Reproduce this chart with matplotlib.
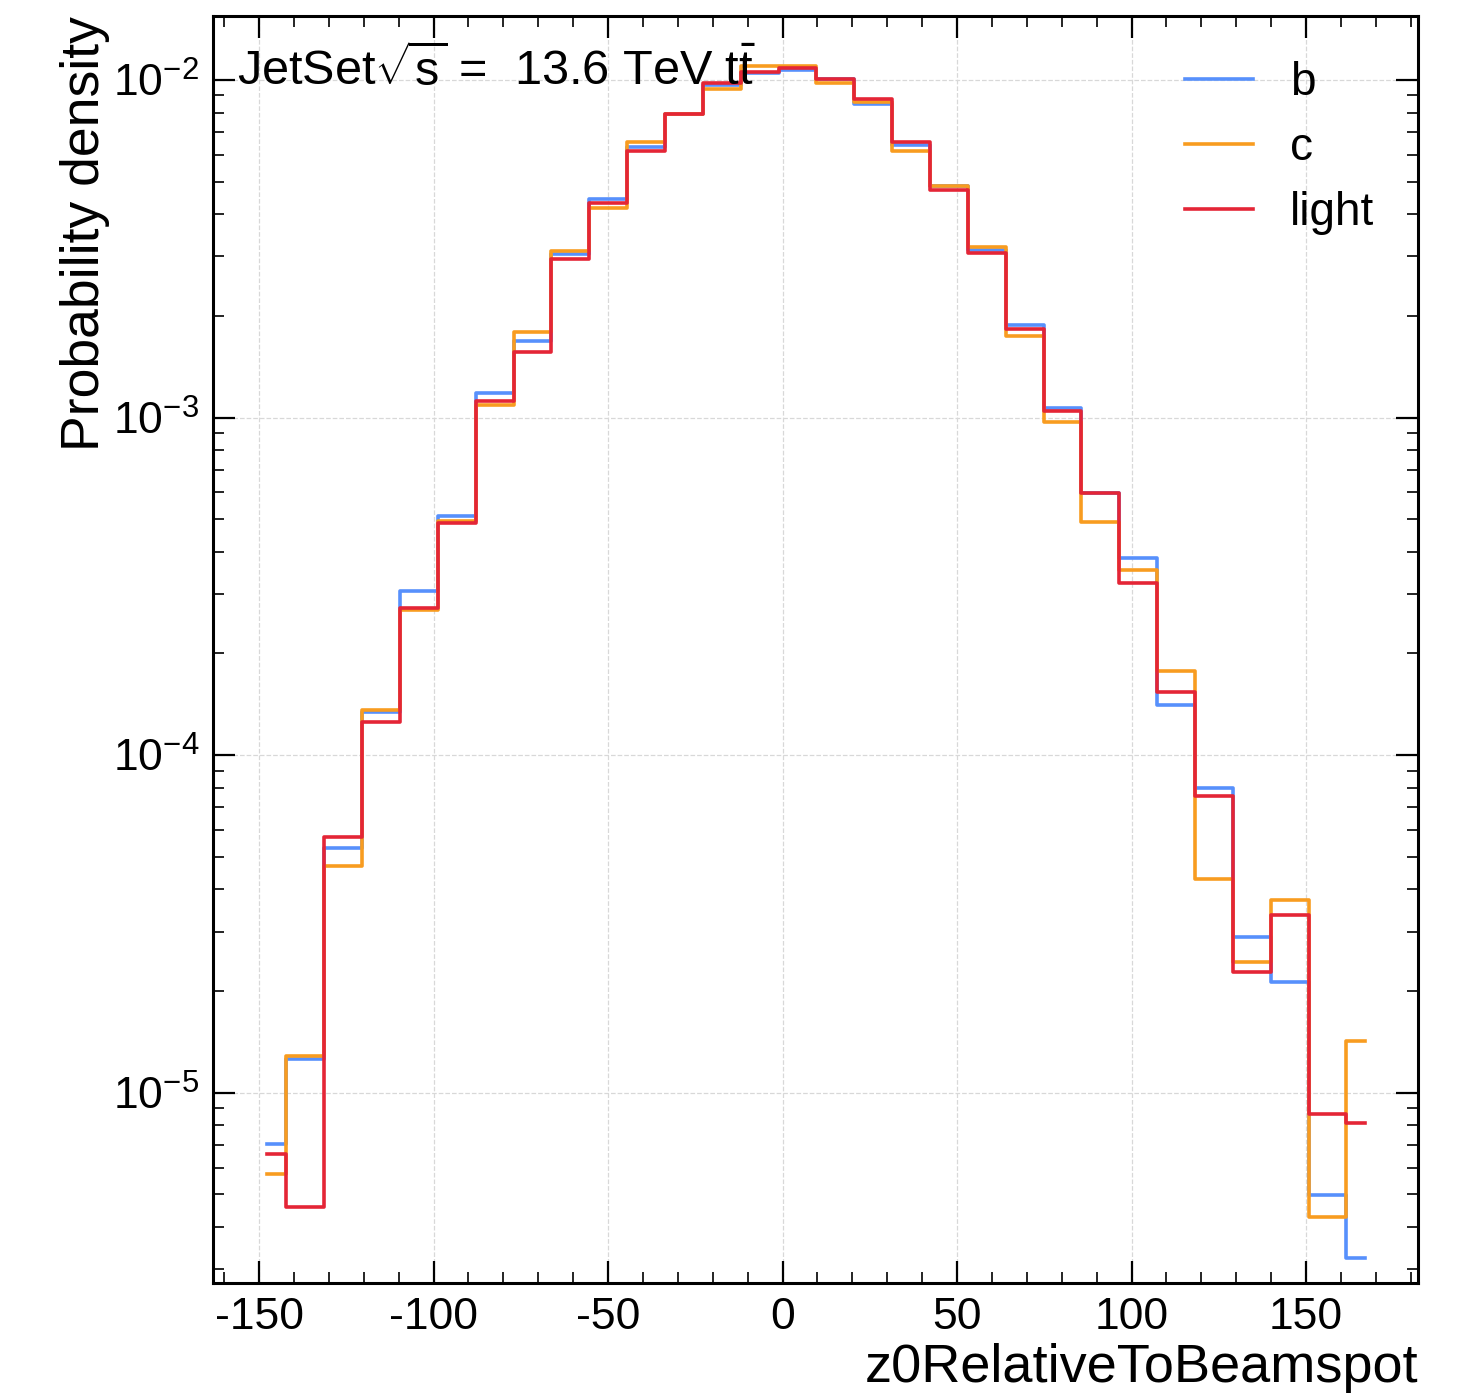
import matplotlib
matplotlib.use("Agg")
import matplotlib.pyplot as plt
from matplotlib.ticker import MultipleLocator, LogLocator, NullFormatter
import numpy as np

plt.rcParams['font.family'] = ['Liberation Sans', 'DejaVu Sans']
plt.rcParams['mathtext.fontset'] = 'custom'
plt.rcParams['mathtext.rm'] = 'Liberation Sans'
plt.rcParams['mathtext.it'] = 'Liberation Sans:italic'
plt.rcParams['mathtext.default'] = 'regular'
plt.rcParams['axes.unicode_minus'] = False

# bin centres of z0RelativeToBeamspot histogram (30 bins)
centers = np.linspace(-147.6, 167.0, 30)

b_vals = [7.05e-6, 1.26e-5, 5.31e-5, 1.34e-4, 3.07e-4, 5.11e-4, 1.18e-3, 1.68e-3,
          3.05e-3, 4.44e-3, 6.33e-3, 7.95e-3, 9.66e-3, 1.049e-2, 1.070e-2, 1.007e-2,
          8.49e-3, 6.42e-3, 4.85e-3, 3.14e-3, 1.88e-3, 1.068e-3, 5.98e-4, 3.84e-4,
          1.41e-4, 7.99e-5, 2.89e-5, 2.13e-5, 4.98e-6, 3.24e-6]
c_vals = [5.75e-6, 1.285e-5, 4.69e-5, 1.36e-4, 2.69e-4, 4.94e-4, 1.09e-3, 1.79e-3,
          3.11e-3, 4.18e-3, 6.55e-3, 7.95e-3, 9.40e-3, 1.100e-2, 1.100e-2, 9.80e-3,
          8.61e-3, 6.16e-3, 4.85e-3, 3.20e-3, 1.745e-3, 9.70e-4, 4.91e-4, 3.54e-4,
          1.78e-4, 4.30e-5, 2.44e-5, 3.72e-5, 4.29e-6, 1.42e-5]
l_vals = [6.59e-6, 4.59e-6, 5.72e-5, 1.25e-4, 2.73e-4, 4.87e-4, 1.12e-3, 1.56e-3,
          2.95e-3, 4.32e-3, 6.16e-3, 7.93e-3, 9.80e-3, 1.056e-2, 1.085e-2, 1.007e-2,
          8.78e-3, 6.55e-3, 4.72e-3, 3.07e-3, 1.83e-3, 1.046e-3, 5.98e-4, 3.24e-4,
          1.54e-4, 7.57e-5, 2.28e-5, 3.36e-5, 8.66e-6, 8.14e-6]

labels = ["b", "c", "light"]
colors = ["#5790fc", "#f89c20", "#e42536"]

fig = plt.figure(figsize=(14.65, 13.98), dpi=100)
ax = fig.add_axes([0.1454, 0.0823, 0.8226, 0.9063])

for vals, lab, col in zip([b_vals, c_vals, l_vals], labels, colors):
    ax.step(centers, vals, where='mid', color=col, lw=2.6, label=lab)

ax.set_yscale('log')
ax.set_xlim(-163.2, 182.1)
ax.set_ylim(2.73e-6, 1.548e-2)

ax.xaxis.set_major_locator(MultipleLocator(50))
ax.xaxis.set_minor_locator(MultipleLocator(10))
ax.yaxis.set_major_locator(LogLocator(base=10))
ax.yaxis.set_minor_locator(LogLocator(base=10, subs=np.arange(2, 10)))
ax.yaxis.set_minor_formatter(NullFormatter())

ax.tick_params(which='both', direction='in', top=True, right=True, labelsize=32)
ax.tick_params(which='major', length=16, width=1.6, pad=10)
ax.tick_params(which='minor', length=8, width=1.2)
for s in ax.spines.values():
    s.set_linewidth(2.2)

ax.grid(True, which='major', color='#d8d8d8', ls='--', lw=0.9)

ax.set_xlabel("z0RelativeToBeamspot", fontsize=39, loc='right')
ax.set_ylabel("Probability density", fontsize=38.5, loc='top', labelpad=2)

ax.text(0.02, 0.976, r"JetSet$\sqrt{s}$ =  13.6 TeV $t\bar{t}$", transform=ax.transAxes,
        fontsize=35, va='top', ha='left')

ax.legend(loc='upper right', frameon=False, fontsize=33, handlelength=1.5,
          handletextpad=0.8, labelspacing=0.45, borderaxespad=0.4,
          bbox_to_anchor=(0.994, 0.993))

fig.savefig("out.png", dpi=100)
